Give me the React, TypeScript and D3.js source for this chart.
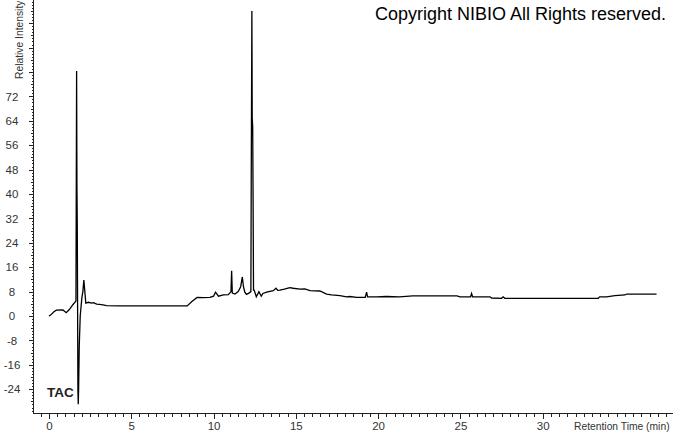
import React, { useEffect, useRef } from 'react';
import * as d3 from 'd3';

// chromatogram trace (TAC)
const retentionTime = [
  0.0, 0.1, 0.3, 0.45, 0.85, 1.05, 1.25, 1.45, 1.6, 1.64, 1.66, 1.68, 1.7, 1.72,
  1.76, 1.78, 1.8, 1.84, 1.9, 2.0, 2.06, 2.12, 2.18, 2.24, 2.4, 2.6, 2.7, 2.9,
  3.2, 3.5, 4.2, 8.4, 8.67, 9.0, 9.37, 9.78, 10.0, 10.12, 10.3, 10.6, 10.9,
  11.06, 11.1, 11.14, 11.3, 11.5, 11.65, 11.75, 11.82, 11.9, 12.0, 12.15, 12.27,
  12.29, 12.33, 12.35, 12.38, 12.4, 12.43, 12.47, 12.6, 12.76, 12.9, 13.0,
  13.23, 13.63, 13.8, 13.9, 14.03, 14.3, 14.64, 14.84, 15.25, 15.55, 15.86,
  16.46, 16.87, 17.17, 17.68, 18.09, 18.29, 18.69, 19.22, 19.3, 19.36, 19.9,
  20.5, 21.3, 22.1, 24.8, 24.97, 25.62, 25.68, 25.74, 26.8, 26.9, 27.5, 27.6,
  27.7, 33.37, 33.47, 33.88, 34.39, 35.0, 35.1, 36.92,
];
const intensity = [
  0.0, 0.3, 1.4, 1.9, 2.0, 1.1, 2.2, 3.7, 4.6, 5.0, 42.5, 80.3, 42.5, 30,
  -24.3, -28.9, -24.3, -10, 0, 6, 8, 11.8, 8, 4.2, 4.5, 4.2, 4.4, 3.9,
  3.7, 3.4, 3.3, 3.3, 4.7, 6.1, 6.0, 6.1, 6.5, 7.8, 6.5, 6.9, 7.0,
  8, 14.8, 7.5, 7.2, 8.0, 9.6, 12.8, 9.6, 7.8, 7.1, 7.5, 8,
  42, 100, 65, 62, 42, 8.5, 8.5, 6.3, 8.0, 6.5, 7.4,
  7.8, 8.3, 9.1, 8.4, 8.5, 8.8, 9.3, 9.1, 8.8, 8.9, 8.3,
  8.2, 7.2, 6.9, 6.7, 6.3, 6.4, 6.1, 6.1, 7.8, 6.3, 6.3,
  6.4, 6.3, 6.6, 6.6, 6.3, 6.3, 7.4, 6.3, 6.3, 5.9, 5.8, 6.3,
  5.8, 5.8, 6.3, 6.3, 6.7, 6.9, 7.2, 7.2,
];

const yTickLabels = [-24, -16, -8, 0, 8, 16, 24, 32, 40, 48, 56, 64, 72];
const xTickLabels = [0, 5, 10, 15, 20, 25, 30];

const App = () => {
  const svgRef = useRef<SVGSVGElement>(null);

  useEffect(() => {
    const width = 673;
    const height = 433;
    const font = '"Liberation Sans", Arial, sans-serif';

    const svg = d3.select(svgRef.current);
    svg.selectAll('*').remove();
    svg.attr('viewBox', [0, 0, width, height]);

    svg.append('rect').attr('width', width).attr('height', height).attr('fill', '#fff');

    // scales
    const x = d3.scaleLinear().domain([-0.97, 37.92]).range([33, 673]);
    const y = d3.scaleLinear().domain([-31.8, 103.6]).range([413, 0]);

    // vertical axis: minor, medium and major ticks
    const yAxisG = svg.append('g').attr('transform', 'translate(33.5,0)');

    const drawY = (values: number[], size: number, labels: boolean) => {
      const g = yAxisG.append('g').call(
        d3.axisLeft(y)
          .tickValues(values)
          .tickSize(size)
          .tickFormat((d) => (labels && yTickLabels.includes(+d) ? String(d) : ''))
      );
      g.select('.domain').remove();
      g.selectAll('line').attr('stroke', '#222').attr('shape-rendering', 'crispEdges');
      g.selectAll('text')
        .attr('x', 12 - 33.5)
        .attr('text-anchor', 'middle')
        .attr('fill', '#333')
        .style('font-family', font)
        .style('font-size', '11.5px');
    };
    drawY(d3.range(-31, 104, 1), 2, false);
    drawY(d3.range(-28, 104, 4), 3, false);
    drawY(d3.range(-24, 104, 8), 5, true);

    yAxisG.append('line')
      .attr('x1', 0).attr('x2', 0)
      .attr('y1', 0).attr('y2', 413)
      .attr('stroke', '#222')
      .attr('shape-rendering', 'crispEdges');

    // horizontal axis
    const xAxisG = svg.append('g').attr('transform', 'translate(0,413.5)');

    const drawX = (values: number[], size: number, labels: boolean) => {
      const g = xAxisG.append('g').call(
        d3.axisBottom(x)
          .tickValues(values)
          .tickSize(size)
          .tickPadding(5)
          .tickFormat((d) => (labels ? String(d) : ''))
      );
      g.select('.domain').remove();
      g.selectAll('line').attr('stroke', '#222').attr('shape-rendering', 'crispEdges');
      g.selectAll('text')
        .attr('y', 16)
        .attr('dy', null)
        .attr('fill', '#333')
        .style('font-family', font)
        .style('font-size', '11.5px');
    };
    drawX(d3.range(-0.5, 38, 0.5), 3, false);
    drawX(xTickLabels, 5, true);

    xAxisG.append('line')
      .attr('x1', 33).attr('x2', width)
      .attr('y1', 0).attr('y2', 0)
      .attr('stroke', '#222')
      .attr('shape-rendering', 'crispEdges');

    // axis titles
    svg.append('text')
      .attr('x', 574)
      .attr('y', 429.5)
      .attr('fill', '#333')
      .style('font-family', font)
      .style('font-size', '10.3px')
      .text('Retention Time (min)');

    svg.append('text')
      .attr('transform', 'translate(22.5,79) rotate(-90)')
      .attr('fill', '#333')
      .style('font-family', font)
      .style('font-size', '10.3px')
      .text('Relative Intensity');

    // the trace
    const line = d3.line<number>()
      .x((d, i) => x(retentionTime[i]))
      .y((d) => y(d));

    svg.append('path')
      .datum(intensity)
      .attr('fill', 'none')
      .attr('stroke', '#000')
      .attr('stroke-width', 1.3)
      .attr('stroke-linejoin', 'miter')
      .attr('d', line);

    // labels
    svg.append('text')
      .attr('x', 47)
      .attr('y', 397)
      .attr('fill', '#222')
      .style('font-family', font)
      .style('font-size', '13.5px')
      .style('font-weight', 'bold')
      .text('TAC');

    svg.append('text')
      .attr('x', 375)
      .attr('y', 20)
      .attr('fill', '#000')
      .style('font-family', font)
      .style('font-size', '18px')
      .text('Copyright NIBIO All Rights reserved.');
  }, []);

  return (
    <svg
      ref={svgRef}
      width={673}
      height={433}
      style={{ position: 'absolute', left: 0, top: 0, display: 'block' }}
    ></svg>
  );
};

export default App;
